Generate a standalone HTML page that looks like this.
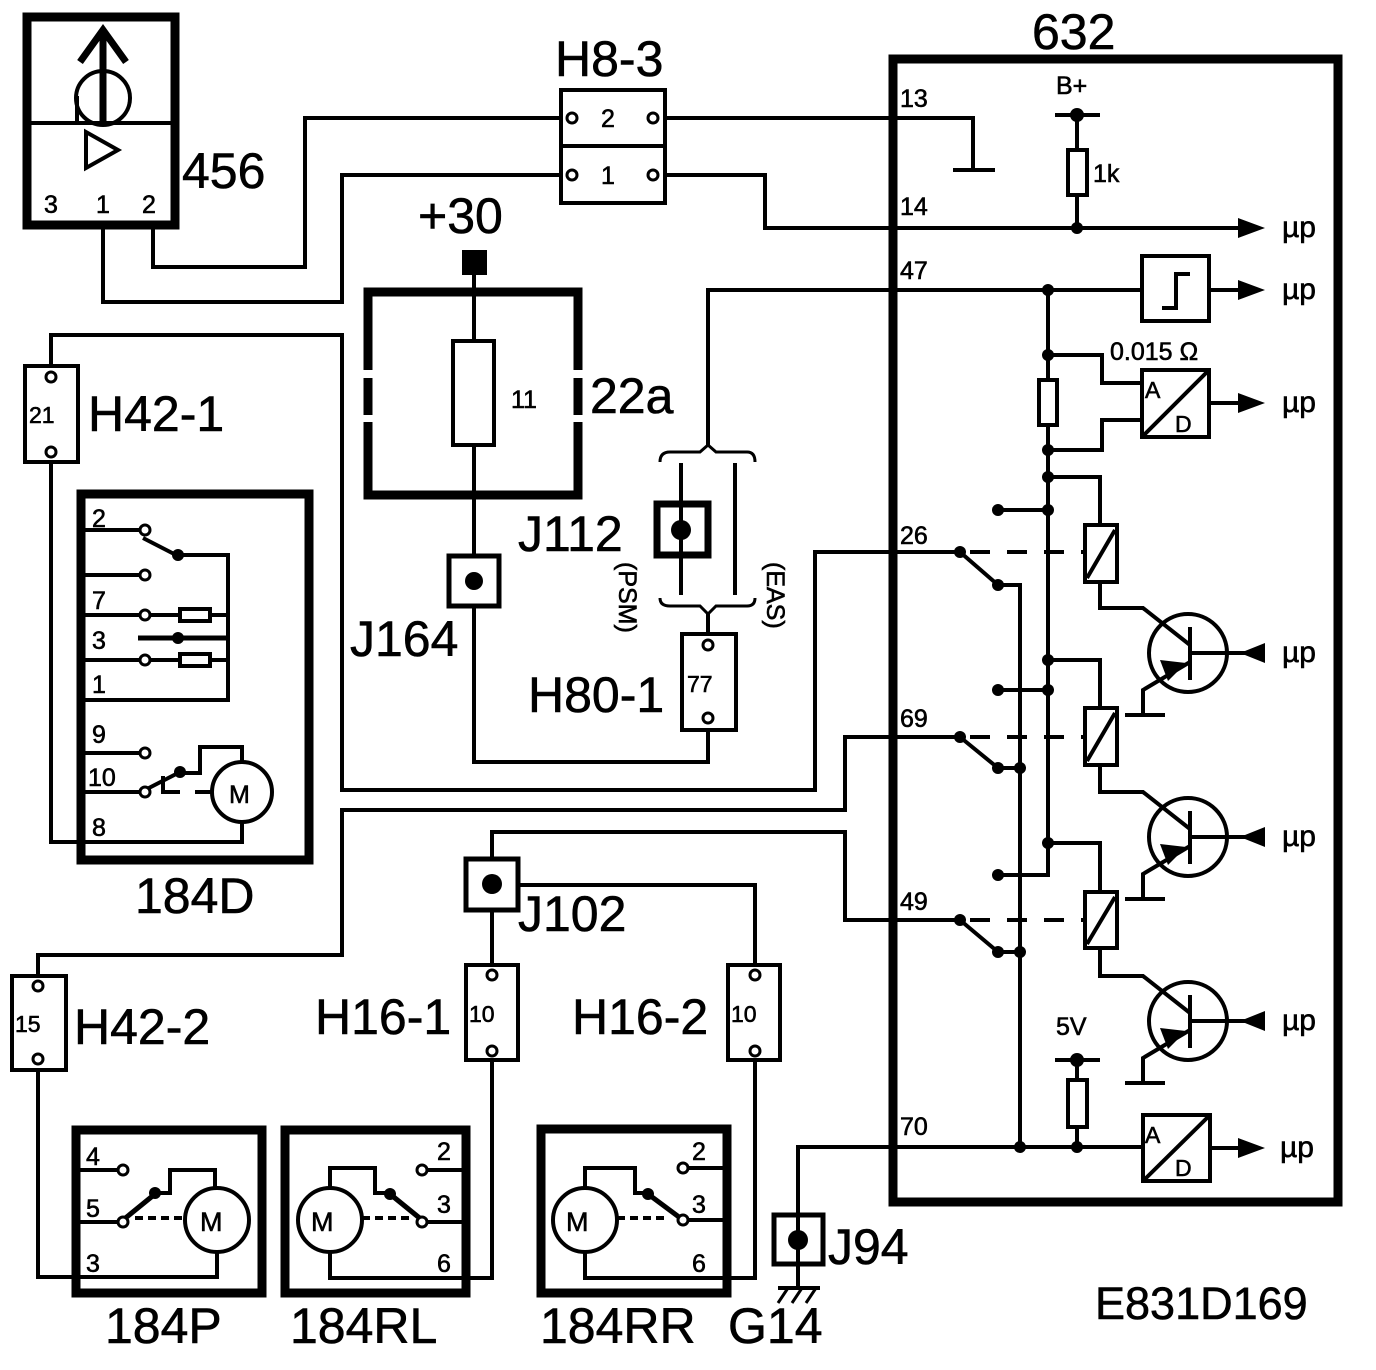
<!DOCTYPE html>
<html><head><meta charset="utf-8"><style>
html,body{margin:0;padding:0;background:#fff}
svg{display:block}
text{font-family:"Liberation Sans",Arial,sans-serif;fill:#000;stroke:#000;stroke-width:0.6}
</style></head><body>
<svg width="1376" height="1370" viewBox="0 0 1376 1370" xmlns="http://www.w3.org/2000/svg">
<g fill="none" stroke="#000" stroke-width="4" stroke-linejoin="miter">
<rect x="27" y="17" width="148" height="208" stroke-width="9"/>
<line x1="27" y1="123" x2="175" y2="123"/>
<line x1="103" y1="32" x2="103" y2="122" stroke-width="7"/>
<polyline points="80,62 103,30 126,62" stroke-width="7"/>
<circle cx="103" cy="98" r="27" stroke-width="4"/>
<line x1="77" y1="96" x2="77" y2="122"/>
<polygon points="86,132 86,168 118,150"/>
<polyline points="153,225 153,267 305,267 305,118 560,118"/>
<polyline points="103,225 103,302 342,302 342,175 560,175"/>
<rect x="561" y="90" width="104" height="113"/>
<line x1="561" y1="146" x2="665" y2="146"/>
<polyline points="665,118 973,118 973,170"/>
<line x1="953" y1="170" x2="995" y2="170"/>
<polyline points="665,175 765,175 765,228 1240,228"/>
<line x1="474" y1="270" x2="474" y2="556"/>
<path d="M368,370 V292 H578 V370 M368,378 V415 M578,378 V415 M368,422 V495 H578 V422" stroke-width="9"/>
<rect x="453" y="341" width="41" height="104" fill="#fff"/>
<rect x="449" y="556" width="50" height="50" stroke-width="5"/>
<polyline points="474,606 474,762 708,762 708,730"/>
<rect x="657" y="504" width="51" height="51" stroke-width="7"/>
<line x1="681" y1="463" x2="681" y2="595"/>
<line x1="735" y1="463" x2="735" y2="595"/>
<path d="M660,462 Q660,452 670,452 H700 L708,445 L716,452 H747 Q755,452 755,462" stroke-width="3"/>
<path d="M660,598 Q660,606 670,606 H700 L708,614 L716,606 H747 Q755,606 755,598" stroke-width="3"/>
<polyline points="708,445 708,290 1142,290"/>
<line x1="708" y1="614" x2="708" y2="634"/>
<rect x="682" y="634" width="54" height="96"/>
<rect x="25" y="366" width="53" height="96"/>
<polyline points="51,366 51,335 342,335 342,790 815,790 815,552 960,552"/>
<polyline points="51,462 51,842 242,842 242,822"/>
<rect x="81" y="494" width="228" height="366" stroke-width="9"/>
<line x1="85" y1="530" x2="145" y2="530"/>
<line x1="143" y1="538" x2="178" y2="556"/>
<polyline points="178,555 228,555 228,700 85,700"/>
<line x1="85" y1="575" x2="145" y2="575"/>
<line x1="85" y1="615" x2="228" y2="615"/>
<rect x="180" y="609" width="30" height="12" fill="#fff"/>
<line x1="138" y1="638" x2="228" y2="638" stroke-width="5"/>
<line x1="85" y1="660" x2="228" y2="660"/>
<rect x="180" y="654" width="30" height="12" fill="#fff"/>
<line x1="85" y1="753" x2="145" y2="753"/>
<line x1="85" y1="792" x2="145" y2="792"/>
<line x1="145" y1="790" x2="180" y2="772"/>
<polyline points="180,773 200,773 200,747 242,747 242,762"/>
<polyline points="163,776 163,792 180,792"/>
<line x1="195" y1="792" x2="212" y2="792"/>
<circle cx="242" cy="792" r="30"/>
<polyline points="38,976 38,955 342,955 342,810 845,810 845,737 960,737"/>
<rect x="12" y="976" width="54" height="94"/>
<polyline points="38,1070 38,1277 217,1277 217,1252"/>
<rect x="76" y="1130" width="186" height="163" stroke-width="9"/>
<line x1="80" y1="1170" x2="123" y2="1170"/>
<line x1="80" y1="1222" x2="123" y2="1222"/>
<line x1="123" y1="1220" x2="155" y2="1194" stroke-width="5"/>
<polyline points="155,1193 170,1193 170,1170 215,1170 215,1188"/>
<line x1="135" y1="1218" x2="185" y2="1218" stroke-dasharray="8,5"/>
<circle cx="217" cy="1220" r="32"/>
<rect x="285" y="1130" width="181" height="163" stroke-width="9"/>
<circle cx="330" cy="1220" r="32"/>
<polyline points="330,1188 330,1168 375,1168 375,1193 390,1193"/>
<line x1="390" y1="1194" x2="422" y2="1220" stroke-width="5"/>
<line x1="362" y1="1218" x2="412" y2="1218" stroke-dasharray="8,5"/>
<line x1="422" y1="1170" x2="466" y2="1170"/>
<line x1="422" y1="1222" x2="466" y2="1222"/>
<polyline points="330,1252 330,1278 492,1278 492,1060"/>
<rect x="466" y="965" width="52" height="95"/>
<line x1="492" y1="910" x2="492" y2="965"/>
<rect x="466" y="859" width="52" height="51" stroke-width="5"/>
<polyline points="492,859 492,832 845,832 845,920 960,920"/>
<polyline points="518,885 755,885 755,965"/>
<rect x="728" y="965" width="52" height="95"/>
<rect x="541" y="1129" width="186" height="164" stroke-width="9"/>
<circle cx="585" cy="1220" r="32"/>
<polyline points="585,1188 585,1168 635,1168 635,1193 648,1193"/>
<line x1="648" y1="1194" x2="683" y2="1220" stroke-width="5"/>
<line x1="617" y1="1218" x2="668" y2="1218" stroke-dasharray="8,5"/>
<line x1="683" y1="1168" x2="724" y2="1168"/>
<line x1="683" y1="1220" x2="724" y2="1220"/>
<polyline points="585,1252 585,1278 755,1278 755,1060"/>
<polyline points="798,1287 798,1147 1142,1147"/>
<rect x="774" y="1215" width="49" height="49" stroke-width="5"/>
<line x1="778" y1="1288" x2="820" y2="1288"/>
<line x1="788" y1="1288" x2="778" y2="1303" stroke-width="3"/>
<line x1="802" y1="1288" x2="792" y2="1303" stroke-width="3"/>
<line x1="816" y1="1288" x2="806" y2="1303" stroke-width="3"/>
<rect x="893" y="59" width="445" height="1143" stroke-width="9"/>
<line x1="1055" y1="115" x2="1100" y2="115"/>
<line x1="1077" y1="115" x2="1077" y2="228"/>
<rect x="1068" y="150" width="19" height="45" fill="#fff"/>
<rect x="1142" y="256" width="67" height="65"/>
<polyline points="1162,308 1176,308 1176,274 1190,274"/>
<line x1="1209" y1="290" x2="1240" y2="290"/>
<polyline points="1048,290 1048,875 998,875"/>
<rect x="1039" y="380" width="18" height="45" fill="#fff"/>
<polyline points="1048,355 1102,355 1102,383 1142,383"/>
<polyline points="1048,450 1102,450 1102,420 1142,420"/>
<rect x="1142" y="370" width="67" height="67"/>
<line x1="1142" y1="437" x2="1209" y2="370"/>
<line x1="1209" y1="403" x2="1240" y2="403"/>
<line x1="998" y1="510" x2="1048" y2="510"/>
<line x1="998" y1="690" x2="1048" y2="690"/>
<polyline points="1048,477 1100,477 1100,525"/>
<polyline points="1048,660 1100,660 1100,708"/>
<polyline points="1048,843 1100,843 1100,892"/>
<line x1="893" y1="552" x2="960" y2="552"/>
<line x1="893" y1="737" x2="960" y2="737"/>
<line x1="893" y1="920" x2="960" y2="920"/>
<line x1="960" y1="552" x2="998" y2="585"/>
<line x1="960" y1="737" x2="998" y2="768"/>
<line x1="960" y1="920" x2="998" y2="952"/>
<polyline points="998,585 1020,585 1020,1147"/>
<line x1="998" y1="768" x2="1020" y2="768"/>
<line x1="998" y1="952" x2="1020" y2="952"/>
<g stroke-dasharray="20,17"><line x1="970" y1="552" x2="1085" y2="552"/><line x1="970" y1="737" x2="1085" y2="737"/><line x1="970" y1="920" x2="1085" y2="920"/></g>
<rect x="1085" y="525" width="32" height="57" fill="#fff"/><line x1="1087" y1="578" x2="1115" y2="530"/>
<rect x="1085" y="708" width="32" height="57" fill="#fff"/><line x1="1087" y1="761" x2="1115" y2="713"/>
<rect x="1085" y="892" width="32" height="56" fill="#fff"/><line x1="1087" y1="944" x2="1115" y2="897"/>
<g id="tr">
<polyline points="1100,582 1100,608 1143,608 1190,645"/>
<circle cx="1188" cy="653" r="39"/>
<line x1="1190" y1="627" x2="1190" y2="680"/>
<line x1="1190" y1="653" x2="1245" y2="653"/>
<polyline points="1190,662 1143,690 1143,715"/>
<line x1="1125" y1="715" x2="1165" y2="715"/>
</g>
<use href="#tr" transform="translate(0,184)"/>
<use href="#tr" transform="translate(0,368)"/>
<line x1="1055" y1="1060" x2="1100" y2="1060"/>
<line x1="1077" y1="1060" x2="1077" y2="1147"/>
<rect x="1068" y="1080" width="19" height="47" fill="#fff"/>
<rect x="1143" y="1115" width="67" height="66"/>
<line x1="1143" y1="1181" x2="1210" y2="1115"/>
<line x1="1210" y1="1148" x2="1240" y2="1148"/>
</g>
<g fill="#000">
<rect x="462" y="250" width="25" height="25"/>
<circle cx="474" cy="581" r="9"/>
<circle cx="681" cy="530" r="10"/>
<circle cx="492" cy="884" r="10"/>
<circle cx="798" cy="1240" r="10"/>
<circle cx="1077" cy="115" r="7"/><circle cx="1077" cy="228" r="6"/>
<circle cx="1077" cy="1060" r="7"/><circle cx="1077" cy="1147" r="6"/>
<circle cx="1020" cy="1147" r="6"/>
<circle cx="1048" cy="290" r="6"/><circle cx="1048" cy="355" r="6"/><circle cx="1048" cy="450" r="6"/>
<circle cx="1048" cy="477" r="6"/><circle cx="1048" cy="510" r="6"/><circle cx="1048" cy="660" r="6"/>
<circle cx="1048" cy="690" r="6"/><circle cx="1048" cy="843" r="6"/>
<circle cx="998" cy="510" r="6"/><circle cx="998" cy="690" r="6"/><circle cx="998" cy="875" r="6"/>
<circle cx="960" cy="552" r="6"/><circle cx="998" cy="585" r="6"/>
<circle cx="960" cy="737" r="6"/><circle cx="998" cy="768" r="6"/><circle cx="1020" cy="768" r="6"/>
<circle cx="960" cy="920" r="6"/><circle cx="998" cy="952" r="6"/><circle cx="1020" cy="952" r="6"/>
<circle cx="178" cy="555" r="6"/><circle cx="178" cy="638" r="6"/><circle cx="180" cy="772" r="6"/>
<circle cx="155" cy="1193" r="6"/><circle cx="390" cy="1194" r="6"/><circle cx="648" cy="1194" r="6"/>
<polygon points="1238,280 1265,290 1238,300"/>
<polygon points="1238,218 1265,228 1238,238"/>
<polygon points="1238,393 1265,403 1238,413"/>
<polygon points="1238,1138 1265,1148 1238,1158"/>
<polygon points="1265,643 1240,653 1265,663"/>
<polygon points="1265,827 1240,837 1265,847"/>
<polygon points="1265,1011 1240,1021 1265,1031"/>
<polygon points="1160,660 1186,663 1168,681"/>
<polygon points="1160,844 1186,847 1168,865"/>
<polygon points="1160,1028 1186,1031 1168,1049"/>
</g>
<g fill="#fff" stroke="#000" stroke-width="3">
<circle cx="572" cy="118" r="5"/><circle cx="653" cy="118" r="5"/>
<circle cx="572" cy="175" r="5"/><circle cx="653" cy="175" r="5"/>
<circle cx="51" cy="377" r="5"/><circle cx="51" cy="452" r="5"/>
<circle cx="38" cy="986" r="5"/><circle cx="38" cy="1059" r="5"/>
<circle cx="492" cy="975" r="5"/><circle cx="492" cy="1051" r="5"/>
<circle cx="755" cy="975" r="5"/><circle cx="755" cy="1051" r="5"/>
<circle cx="708" cy="645" r="5"/><circle cx="708" cy="718" r="5"/>
<circle cx="145" cy="530" r="5"/><circle cx="145" cy="575" r="5"/><circle cx="145" cy="615" r="5"/>
<circle cx="145" cy="660" r="5"/><circle cx="145" cy="753" r="5"/><circle cx="145" cy="792" r="5"/>
<circle cx="123" cy="1170" r="5"/><circle cx="123" cy="1222" r="5"/>
<circle cx="422" cy="1170" r="5"/><circle cx="422" cy="1222" r="5"/>
<circle cx="683" cy="1168" r="5"/><circle cx="683" cy="1220" r="5"/>
</g>
<g font-size="50">
<text x="182" y="188">456</text>
<text x="555" y="76">H8-3</text>
<text x="1032" y="49">632</text>
<text x="418" y="233">+30</text>
<text x="590" y="413">22a</text>
<text x="88" y="431">H42-1</text>
<text x="518" y="551">J112</text>
<text x="350" y="656">J164</text>
<text x="528" y="712">H80-1</text>
<text x="135" y="913">184D</text>
<text x="518" y="931">J102</text>
<text x="74" y="1044">H42-2</text>
<text x="315" y="1034">H16-1</text>
<text x="572" y="1034">H16-2</text>
<text x="828" y="1264">J94</text>
<text x="105" y="1343">184P</text>
<text x="290" y="1343">184RL</text>
<text x="540" y="1343">184RR</text>
<text x="728" y="1343">G14</text>
</g>
<text x="1095" y="1319" font-size="45">E831D169</text>
<g font-size="25">
<text x="44" y="213">3</text><text x="96" y="213">1</text><text x="142" y="213">2</text>
<text x="601" y="127">2</text><text x="601" y="184">1</text>
<text x="511" y="408">11</text>
<text x="29" y="423" font-size="23">21</text>
<text x="15" y="1032" font-size="23">15</text>
<text x="469" y="1022" font-size="23">10</text>
<text x="731" y="1022" font-size="23">10</text>
<text x="687" y="692" font-size="23">77</text>
<text x="900" y="107">13</text><text x="900" y="215">14</text><text x="900" y="279">47</text>
<text x="900" y="544">26</text><text x="900" y="727">69</text><text x="900" y="910">49</text><text x="900" y="1135">70</text>
<text x="1056" y="94">B+</text><text x="1093" y="182">1k</text>
<text x="1110" y="360">0.015 Ω</text>
<text x="1056" y="1035">5V</text>
<text x="1145" y="398" font-size="23">A</text><text x="1175" y="432" font-size="23">D</text>
<text x="1145" y="1143" font-size="23">A</text><text x="1175" y="1176" font-size="23">D</text>
<text x="92" y="527">2</text><text x="92" y="609">7</text><text x="92" y="649">3</text><text x="92" y="693">1</text>
<text x="92" y="743">9</text><text x="88" y="786">10</text><text x="92" y="836">8</text>
<text x="229" y="803" font-size="25">M</text>
<text x="86" y="1165">4</text><text x="86" y="1217">5</text><text x="86" y="1272">3</text>
<text x="200" y="1231" font-size="27">M</text>
<text x="437" y="1160">2</text><text x="437" y="1213">3</text><text x="437" y="1272">6</text>
<text x="311" y="1231" font-size="27">M</text>
<text x="692" y="1160">2</text><text x="692" y="1213">3</text><text x="692" y="1272">6</text>
<text x="566" y="1231" font-size="27">M</text>
</g>
<g font-size="30">
<text x="1282" y="237">µp</text><text x="1282" y="299">µp</text><text x="1282" y="412">µp</text>
<text x="1282" y="662">µp</text><text x="1282" y="846">µp</text><text x="1282" y="1030">µp</text>
<text x="1280" y="1157">µp</text>
</g>
<text transform="translate(619,562) rotate(90)" font-size="25">(PSM)</text>
<text transform="translate(767,562) rotate(90)" font-size="25">(EAS)</text>
</svg>
</body></html>
